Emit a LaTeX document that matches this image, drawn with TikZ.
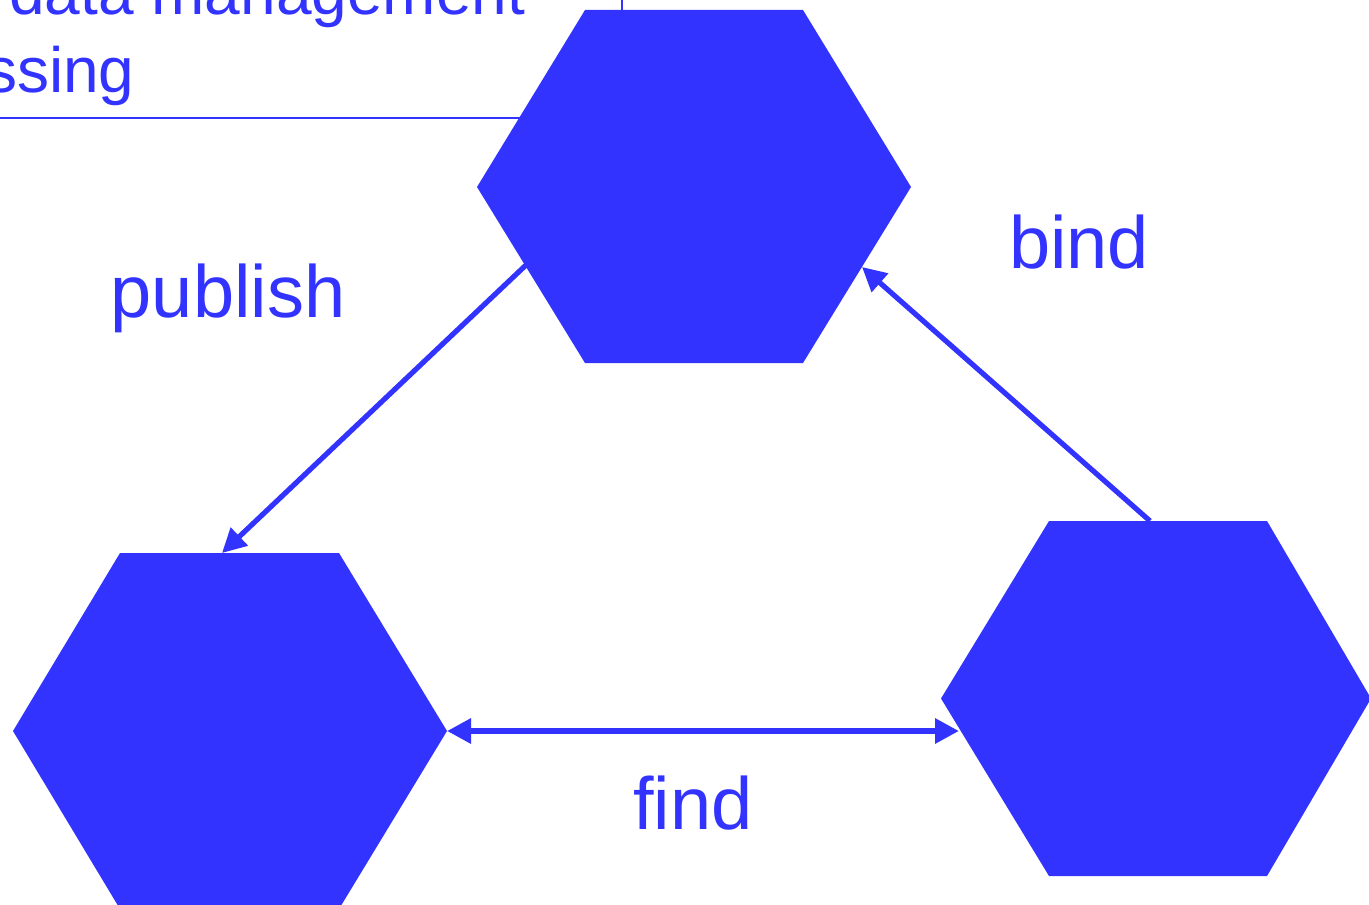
\documentclass[tikz,border=0pt]{standalone}
\usepackage{fontspec}
\setmainfont{Liberation Sans}
\usetikzlibrary{arrows.meta}
\definecolor{hexblue}{HTML}{3333FF}
\begin{document}
\begin{tikzpicture}[x=0.5pt,y=-0.5pt,
  hexfill/.style={fill=hexblue, draw=none},
  thinline/.style={draw=hexblue, line width=1pt},
  conn/.style={draw=hexblue, line width=2.6pt, -{Triangle[length=12pt,width=12pt]}},
  biconn/.style={draw=hexblue, line width=3.4pt, {Triangle[length=12pt,width=12pt]}-{Triangle[length=12pt,width=12pt]}},
  lbl/.style={text=hexblue, font=\fontsize{37}{44}\selectfont, inner sep=0pt, anchor=base},
  toptext/.style={text=hexblue, font=\fontsize{32}{39}\selectfont, inner sep=0pt}]
\useasboundingbox (0,0) rectangle (1369,904);
\begin{scope}
\clip (0,0) rectangle (1369,904);
% header text and rules
\node[toptext, anchor=base west] (title1) at (9,15) {data management};
\node[toptext, anchor=base east] (title2) at (135,93) {ssing};
\coordinate (ruleA) at (0,118);
\coordinate (ruleB) at (600,118);
\draw[thinline] (ruleA) -- (ruleB);
\coordinate (vtop) at (622,-2);
\coordinate (vbot) at (622,14);
\draw[thinline] (vtop) -- (vbot);
% top hexagon
\coordinate (T) at (694,186.5);
\fill[hexfill] (585,10) -- (803,10) -- (911,187) -- (803,363) -- (585,363) -- (477,187) -- cycle;
% bottom-left hexagon
\coordinate (L) at (230,731);
\fill[hexfill] (120,553) -- (339,553) -- (447,731) -- (339,909) -- (120,909) -- (13,731) -- cycle;
% right hexagon
\coordinate (R) at (1158,698.5);
\fill[hexfill] (1049,521) -- (1267,521) -- (1371,698.5) -- (1267,876) -- (1049,876) -- (941,698.5) -- cycle;
% connector end points on hexagon borders
\coordinate (pubS) at (526,265);
\coordinate (pubE) at (222,553);
\coordinate (bindS) at (1150,521);
\coordinate (bindE) at (862,267);
\coordinate (findL) at (447,731);
\coordinate (findR) at (959,731);
\draw[conn] (pubS) -- (pubE);
\draw[conn] (bindS) -- (bindE);
\draw[biconn] (findL) -- (findR);
% labels
\node[lbl] (publish) at (228,317) {publish};
\node[lbl] (bind) at (1079,268) {bind};
\node[lbl] (find) at (693,829) {find};
\end{scope}
\end{tikzpicture}
\end{document}
